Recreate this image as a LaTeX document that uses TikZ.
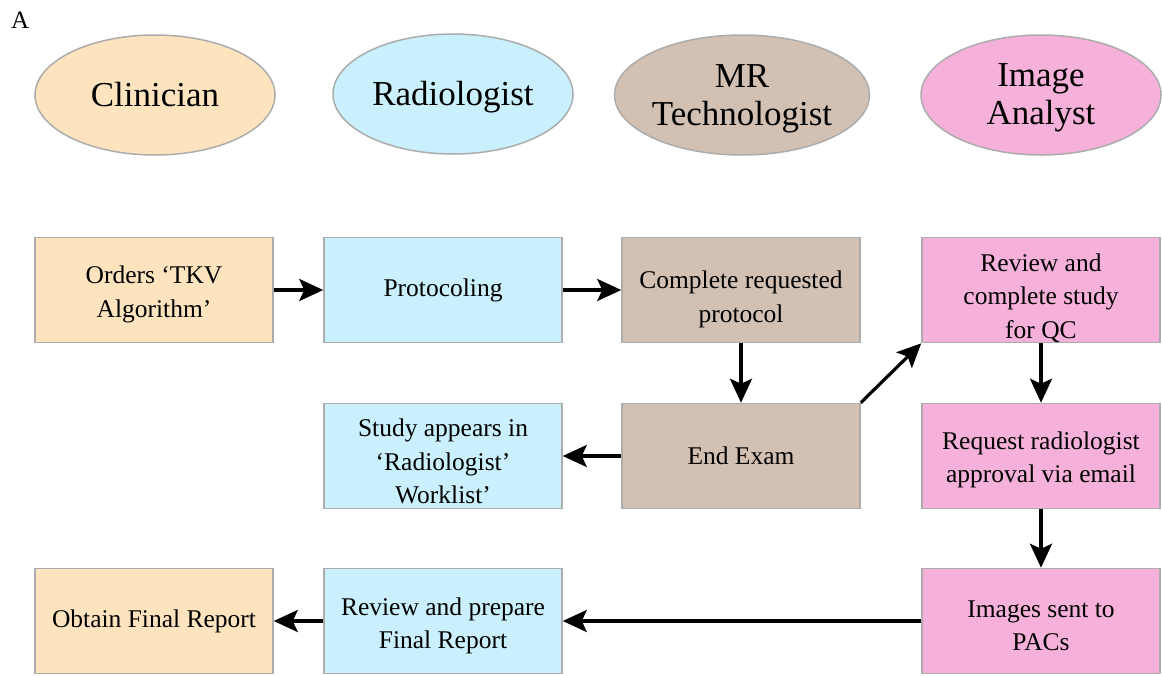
\documentclass[tikz,border=0pt]{standalone}
\usepackage{fontspec}
\setmainfont{Liberation Serif}
\usepackage{xcolor}
\usepackage{tikz}
\usetikzlibrary{shapes,arrows.meta,positioning}

\definecolor{clinfill}{RGB}{253,228,190}
\definecolor{radfill}{RGB}{201,240,252}
\definecolor{techfill}{RGB}{210,193,179}
\definecolor{analystfill}{RGB}{245,177,217}
\definecolor{edgegray}{RGB}{172,172,172}

% extra room above the first line of a text
\newcommand{\topgap}[1]{\rule{0pt}{#1pt}}

\tikzset{
    role/.style={
        ellipse,
        draw=edgegray,
        line width=1.5pt,
        inner sep=0pt,
        minimum width=240pt,
        minimum height=120pt,
        align=center,
        font=\fontsize{35}{38}\selectfont
    },
    task/.style={
        rectangle,
        draw=edgegray,
        line width=1.5pt,
        inner sep=0pt,
        minimum width=238pt,
        minimum height=105pt,
        align=center,
        font=\fontsize{25.5}{33.5}\selectfont
    },
    flow/.style={
        line width=3.2pt,
        -{Stealth[length=24pt,width=22pt,inset=5pt]}
    }
}

\begin{document}
\begin{tikzpicture}[x=1pt,y=-1pt]
                \useasboundingbox (0,0) rectangle (1162,675);

                \node[anchor=north west, inner sep=0pt, font=\fontsize{25}{28}\selectfont] (paneltag) at (11,12) {A};

                % roles
                \node[role, fill=clinfill] (clinician) at (155,95) {Clinician};
                \node[role, fill=radfill] (radiologist) at (453,94) {\topgap{31}Radiologist};
                \node[role, fill=techfill] (technologist) at (742,95) {\topgap{30}MR\\Technologist};
                \node[role, fill=analystfill] (analyst) at (1041,95) {\topgap{29}Image\\Analyst};

                % tasks
                \node[task, fill=clinfill] (orders) at (154,290) {\topgap{26}Orders ‘TKV\\Algorithm’};
                \node[task, fill=radfill] (protocol) at (443,290) {Protocoling};
                \node[task, fill=techfill] (complete) at (741,290) {\topgap{36}Complete requested\\protocol};
                \node[task, fill=analystfill] (qcreview) at (1041,290) {\topgap{34}Review and\\complete study\\for QC};

                \node[task, fill=radfill] (worklist) at (443,456) {\topgap{29}Study appears in\\‘Radiologist’\\Worklist’};
                \node[task, fill=techfill] (endexam) at (741,456) {End Exam};
                \node[task, fill=analystfill] (approval) at (1041,456) {\topgap{25}Request radiologist\\approval via email};

                \node[task, fill=clinfill] (obtain) at (154,621) {Obtain Final Report};
                \node[task, fill=radfill] (prepare) at (443,621) {\topgap{27}Review and prepare\\Final Report};
                \node[task, fill=analystfill] (pacs) at (1041,621) {\topgap{26}Images sent to\\PACs};

                % connectors
                \draw[flow] (orders) -- (protocol);
                \draw[flow] (protocol) -- (complete);
                \draw[flow] (complete) -- (endexam);
                \draw[flow] (endexam) -- (worklist);
                \draw[flow] (endexam.north east) -- (qcreview.south west);
                \draw[flow] (qcreview) -- (approval);
                \draw[flow] (approval) -- (pacs);
                \draw[flow] (pacs) -- (prepare);
                \draw[flow] (prepare) -- (obtain);
\end{tikzpicture}
\end{document}
